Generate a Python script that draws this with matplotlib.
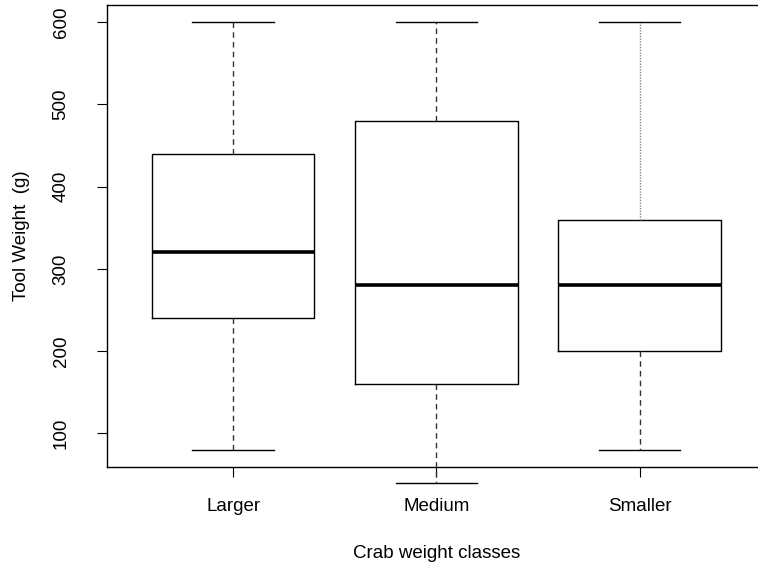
import matplotlib
matplotlib.use('Agg')
import matplotlib.pyplot as plt
import matplotlib.ticker as tick

# five-number summaries per crab weight class
classes = ['Larger', 'Medium', 'Smaller']
whislo = [80, 40, 80]
q1 = [240, 160, 200]
med = [320, 280, 280]
q3 = [440, 480, 360]
whishi = [600, 600, 600]

plt.rcParams['font.family'] = ['Liberation Sans', 'DejaVu Sans']
plt.rcParams['font.size'] = 13.5

stats = []
for i, c in enumerate(classes):
    stats.append({'label': c, 'whislo': whislo[i], 'q1': q1[i], 'med': med[i],
                  'q3': q3[i], 'whishi': whishi[i], 'fliers': []})

fig = plt.figure(figsize=(7.58, 5.67), dpi=100)
ax = fig.add_axes([0.1412, 0.1764, 0.869, 0.8148])

bp = ax.bxp(stats, positions=[1, 2, 3], widths=0.8, showfliers=False,
            boxprops=dict(color='black', lw=1.0),
            medianprops=dict(color='black', lw=2.6, solid_capstyle='butt'),
            whiskerprops=dict(color='#333333', lw=1.0, linestyle=(0, (4, 3))),
            capprops=dict(color='black', lw=1.0), capwidths=0.4)

# whiskers and caps go past the frame like in base R
for a in bp['whiskers'] + bp['caps']:
    a.set_clip_on(False)
# upper whisker of the last box is drawn finer
bp['whiskers'][5].set_linestyle((0, (1, 1)))
bp['whiskers'][5].set_color('#888888')

ax.set_xlim(0.38, 3.62)
ax.set_ylim(59.2, 620.8)
ax.yaxis.set_major_locator(tick.MultipleLocator(100))
ax.set_yticks([100, 200, 300, 400, 500, 600])
ax.tick_params(axis='y', labelrotation=90, length=7, pad=20)
ax.tick_params(axis='x', length=7, pad=15)
for lbl in ax.get_yticklabels():
    lbl.set_va('center')
ax.spines['right'].set_visible(False)
for s in ax.spines.values():
    s.set_linewidth(1.0)

ax.set_xlabel('Crab weight classes', labelpad=22)
ax.set_ylabel('Tool Weight  (g)', labelpad=16)

fig.savefig('out.png', dpi=100)
